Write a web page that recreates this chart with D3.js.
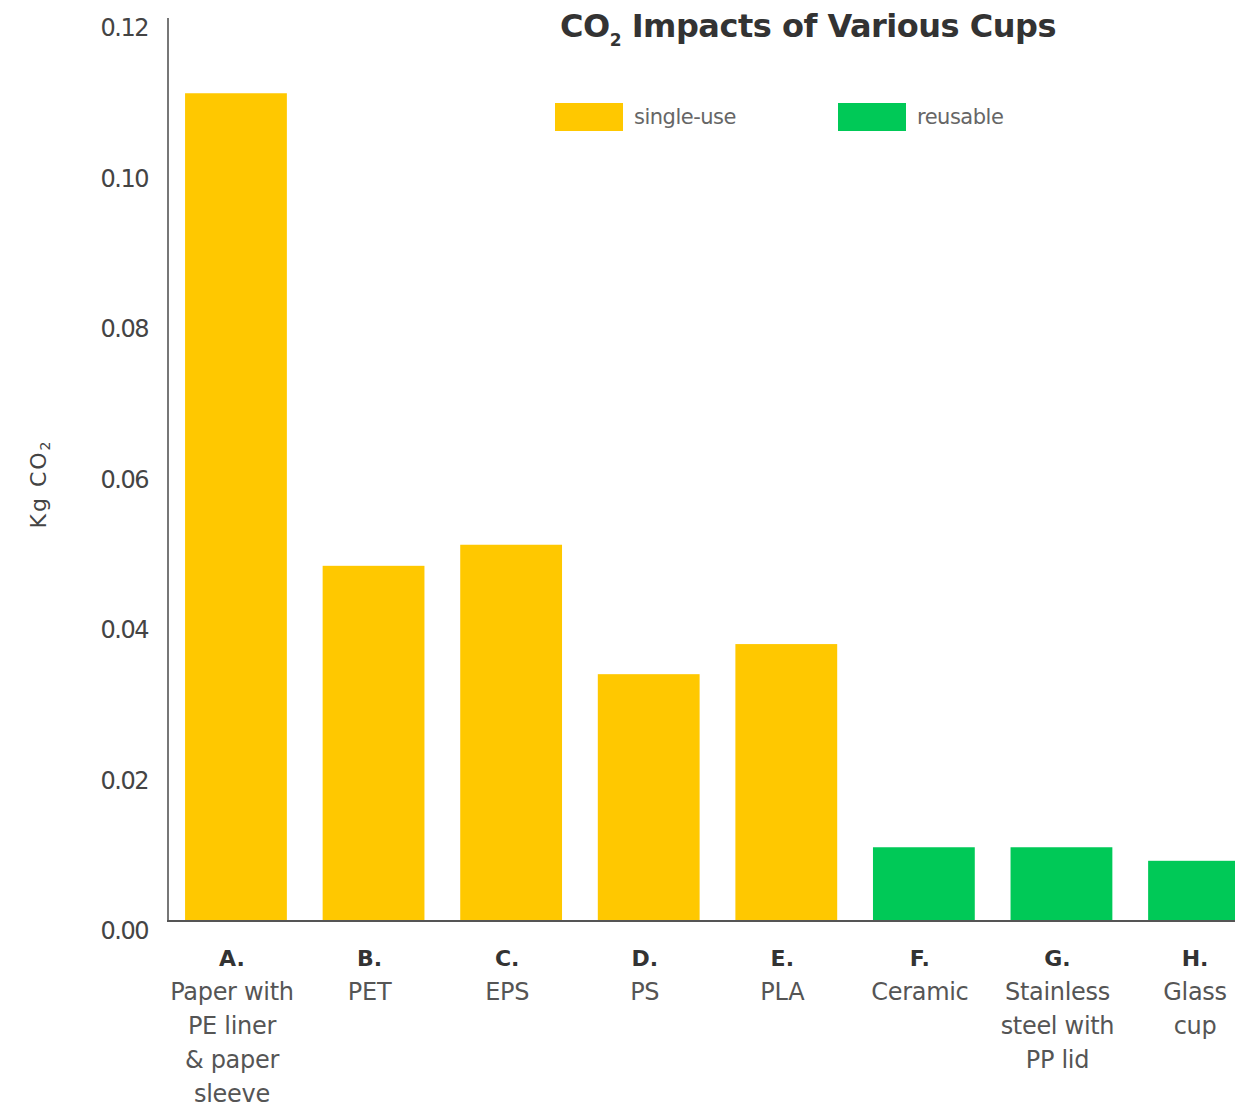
<!DOCTYPE html>
<html lang="en">
<head>
  <meta charset="UTF-8">
  <script src="https://d3js.org/d3.v7.min.js"></script>
  <title>CO2 Impacts of Various Cups</title>
  <style>
  body { margin:0; background:#fff; }
  svg { display:block; font-family: "DejaVu Sans", "Liberation Sans", Arial, sans-serif; }
  .tick-label { font-size:24px; fill:#444; letter-spacing:-1.5px; }
  .cat-letter { font-size:22px; font-weight:bold; fill:#333; }
  .cat-line { font-size:24px; fill:#555; letter-spacing:-0.3px; }
  </style>
</head>
<body>
<svg id="chart" width="1235" height="1107"></svg>
<script>
  // data
  const letters = ["A.", "B.", "C.", "D.", "E.", "F.", "G.", "H."];
  const names = [
    ["Paper with", "PE liner", "& paper", "sleeve"],
    ["PET"], ["EPS"], ["PS"], ["PLA"], ["Ceramic"],
    ["Stainless", "steel with", "PP lid"],
    ["Glass", "cup"]
  ];
  const values = [0.110, 0.0472, 0.0500, 0.0328, 0.0368, 0.0098, 0.0098, 0.0080];
  const kinds = ["single-use", "single-use", "single-use", "single-use", "single-use", "reusable", "reusable", "reusable"];
  const yTicks = [0, 0.02, 0.04, 0.06, 0.08, 0.10, 0.12];
  const legendKeys = ["single-use", "reusable"];

  const svg = d3.select("svg#chart");
  const margin = {top: 18, left: 168, bottom: 921};

  const color = d3.scaleOrdinal().domain(legendKeys).range(["#FFC800", "#00C957"]);

  const x = d3.scaleBand().domain(letters)
      .range([margin.left, 1267])
      .paddingInner(0.26)
      .paddingOuter(0.124);
  const y = d3.scaleLinear().domain([0, 0.12]).range([margin.bottom, margin.top]);

  // bars
  svg.append("g").selectAll("rect")
    .data(values)
    .join("rect")
      .attr("x", (d, i) => x(letters[i]))
      .attr("y", d => y(d))
      .attr("width", x.bandwidth())
      .attr("height", d => y(0) - y(d))
      .attr("fill", (d, i) => color(kinds[i]));

  // axes lines
  svg.append("line")
    .attr("x1", margin.left).attr("x2", margin.left)
    .attr("y1", y(0.12)).attr("y2", y(0))
    .attr("stroke", "#777").attr("stroke-width", 2);
  svg.append("line")
    .attr("x1", margin.left - 1).attr("x2", 1235)
    .attr("y1", y(0)).attr("y2", y(0))
    .attr("stroke", "#555").attr("stroke-width", 2);

  // y tick labels (sit a little below their value)
  svg.append("g").selectAll("text")
    .data(yTicks)
    .join("text")
      .attr("class", "tick-label")
      .attr("x", 148)
      .attr("y", d => y(d) + 10)
      .attr("dy", "0.35em")
      .attr("text-anchor", "end")
      .text(d => d3.format(".2f")(d));

  svg.append("text")
    .attr("transform", "translate(46,484) rotate(-90)")
    .attr("text-anchor", "middle")
    .attr("font-size", 22)
    .attr("letter-spacing", 2)
    .attr("fill", "#444")
    .html('Kg CO<tspan font-size="14" dy="4">2</tspan>');

  // category labels
  const cats = svg.append("g").selectAll("g")
    .data(letters)
    .join("g")
      .attr("transform", d => `translate(${x(d) + x.bandwidth() / 2 - 4},0)`);
  cats.append("text")
    .attr("class", "cat-letter")
    .attr("text-anchor", "middle")
    .attr("y", 966)
    .text(d => d);
  cats.each(function(d, i) {
    d3.select(this).selectAll("text.cat-line")
      .data(names[i])
      .join("text")
        .attr("class", "cat-line")
        .attr("text-anchor", "middle")
        .attr("y", (t, j) => 1000 + j * 34)
        .text(t => t);
  });

  // title
  svg.append("text")
    .attr("x", 808).attr("y", 37)
    .attr("text-anchor", "middle")
    .attr("font-size", 32)
    .attr("font-weight", "bold")
    .attr("fill", "#333")
    .attr("letter-spacing", "-0.5")
    .html('CO<tspan font-size="17" dy="9">2</tspan><tspan dy="-9"> Impacts of Various Cups</tspan>');

  // legend
  const legendX = [555, 838];
  const legend = svg.append("g").selectAll("g")
    .data(legendKeys)
    .join("g")
      .attr("transform", (d, i) => `translate(${legendX[i]},103)`);
  legend.append("rect")
    .attr("width", 68).attr("height", 28)
    .attr("fill", d => color(d));
  legend.append("text")
    .attr("x", 79).attr("y", 14)
    .attr("dy", "0.35em")
    .attr("font-size", 21)
    .attr("fill", "#666")
    .attr("letter-spacing", "-0.5")
    .text(d => d);
</script>
</body>
</html>
